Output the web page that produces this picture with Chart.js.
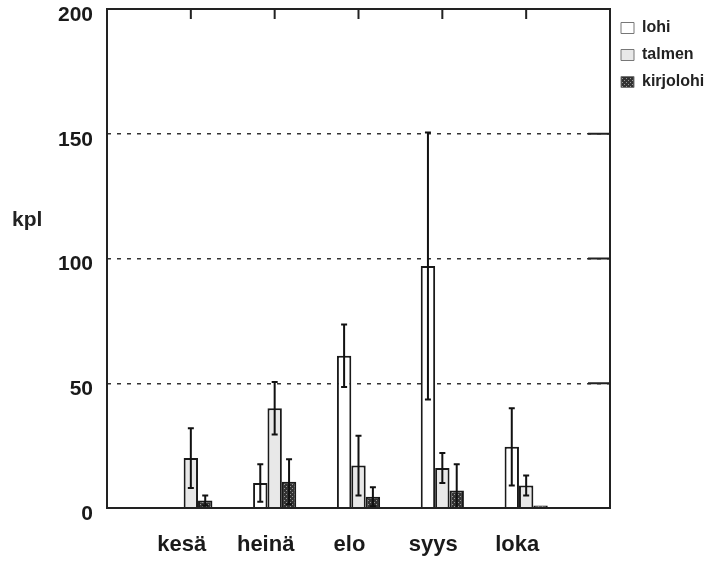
<!DOCTYPE html>
<html>
<head>
<meta charset="utf-8">
<script src="https://cdn.jsdelivr.net/npm/chart.js@4.4.1/dist/chart.umd.min.js"></script>
<style>
  body { margin: 0; background: #fff; }
  #wrap { width: 710px; height: 563px; }
</style>
</head>
<body>
<div id="wrap"><canvas id="chart" width="710" height="563"></canvas></div>
<script>
const categories = ["kesä", "heinä", "elo", "syys", "loka"];
const lohi = [0, 10, 61, 97, 24.5];
const lohiErr = [0, 7.5, 12.5, 53.5, 15.5];
const talmen = [20, 40, 17, 16, 9];
const talmenErr = [12, 10.5, 12, 6, 4];
const kirjolohi = [3, 10.5, 4.5, 7, 1];
const kirjolohiErr = [2, 9, 3.8, 10.5, 0];
const yTicks = [0, 50, 100, 150, 200];
const yTitle = "kpl";

const FONT = "'Liberation Sans', Arial, Helvetica, sans-serif";

// empty slot at both ends so the groups sit on the category lines
const labels = ["", ...categories, ""];
const pad = (arr) => [null, ...arr, null];
const errors = [lohiErr, talmenErr, kirjolohiErr];

function checker() {
  const c = document.createElement("canvas");
  c.width = 4;
  c.height = 4;
  const g = c.getContext("2d");
  g.fillStyle = "#333";
  g.fillRect(0, 0, 4, 4);
  g.fillStyle = "#9a9a9a";
  g.fillRect(0, 0, 1, 1);
  g.fillRect(2, 2, 1, 1);
  return g.createPattern(c, "repeat");
}

const errorBars = {
  id: "errorBars",
  afterDatasetsDraw(chart) {
    const { ctx } = chart;
    const y = chart.scales.y;
    ctx.save();
    ctx.strokeStyle = "#111";
    ctx.lineWidth = 2;
    chart.data.datasets.forEach((ds, i) => {
      const meta = chart.getDatasetMeta(i);
      meta.data.forEach((bar, j) => {
        const v = ds.data[j];
        const e = errors[i][j - 1];
        if (v == null || !e) return;
        const top = y.getPixelForValue(v + e);
        const low = v - e;
        const bot = y.getPixelForValue(Math.max(0, low));
        ctx.beginPath();
        ctx.moveTo(bar.x, top);
        ctx.lineTo(bar.x, bot);
        ctx.moveTo(bar.x - 3, top);
        ctx.lineTo(bar.x + 3, top);
        if (low > 0) {
          ctx.moveTo(bar.x - 3, bot);
          ctx.lineTo(bar.x + 3, bot);
        }
        ctx.stroke();
      });
    });
    ctx.restore();
  },
};

const frame = {
  id: "frame",
  afterDraw(chart) {
    const { ctx, chartArea: a } = chart;
    const x = chart.scales.x;
    const y = chart.scales.y;
    ctx.save();
    ctx.strokeStyle = "#222";
    ctx.lineWidth = 2;
    ctx.strokeRect(a.left, a.top, a.right - a.left, a.bottom - a.top);
    ctx.beginPath();
    categories.forEach((c, i) => {
      const px = x.getPixelForValue(i + 1);
      ctx.moveTo(px, a.top);
      ctx.lineTo(px, a.top + 10);
    });
    yTicks.slice(1, -1).forEach((t) => {
      const py = y.getPixelForValue(t);
      ctx.moveTo(a.right - 22, py);
      ctx.lineTo(a.right, py);
    });
    ctx.stroke();
    ctx.fillStyle = "#222";
    ctx.font = "bold 21px " + FONT;
    ctx.textAlign = "left";
    ctx.textBaseline = "middle";
    ctx.fillText(yTitle, 12, 220);
    ctx.restore();
  },
};

const legendWidth = {
  id: "legendWidth",
  beforeInit(chart) {
    const fit = chart.legend.fit;
    chart.legend.fit = function () {
      fit.bind(chart.legend)();
      this.width = 100;
    };
  },
};

const ctx = document.getElementById("chart").getContext("2d");
new Chart(ctx, {
  type: "bar",
  data: {
    labels,
    datasets: [
      {
        label: "lohi",
        data: pad(lohi),
        backgroundColor: "#ffffff",
        borderColor: "#1a1a1a",
        borderWidth: 2,
      },
      {
        label: "talmen",
        data: pad(talmen),
        backgroundColor: "#e8e8e8",
        borderColor: "#1a1a1a",
        borderWidth: 2,
      },
      {
        label: "kirjolohi",
        data: pad(kirjolohi),
        backgroundColor: checker(),
        borderColor: "#1a1a1a",
        borderWidth: 2,
      },
    ],
  },
  options: {
    responsive: false,
    animation: false,
    layout: { padding: { top: 9, right: 0, bottom: 0, left: 0 } },
    datasets: {
      bar: { categoryPercentage: 0.515, barPercentage: 1 },
    },
    plugins: {
      tooltip: { enabled: false },
      legend: {
        position: "right",
        align: "start",
        labels: {
          boxWidth: 13,
          boxHeight: 11,
          padding: 11,
          color: "#222",
          font: { family: FONT, size: 16, weight: "bold" },
          generateLabels(chart) {
            const items = Chart.defaults.plugins.legend.labels.generateLabels(chart);
            items.forEach((it) => {
              it.lineWidth = 1;
              it.strokeStyle = "#777";
            });
            return items;
          },
        },
      },
    },
    scales: {
      x: {
        offset: false,
        grid: { display: false },
        border: { display: false },
        ticks: {
          autoSkip: false,
          maxRotation: 0,
          padding: 16,
          labelOffset: -9,
          color: "#1a1a1a",
          font: { family: FONT, size: 22, weight: "bold" },
        },
        afterFit(scale) {
          scale.height = 55;
          scale.paddingLeft = 0;
          scale.paddingRight = 0;
        },
      },
      y: {
        min: yTicks[0],
        max: yTicks[yTicks.length - 1],
        afterBuildTicks(scale) {
          scale.ticks = yTicks.map((v) => ({ value: v }));
        },
        grid: {
          drawTicks: false,
          lineWidth: 1.5,
          color: (c) =>
            c.tick && c.tick.value > yTicks[0] && c.tick.value < yTicks[yTicks.length - 1]
              ? "#333"
              : "rgba(0,0,0,0)",
        },
        border: { display: false, dash: [4, 6] },
        ticks: {
          padding: 14,
          labelOffset: 6,
          color: "#1a1a1a",
          font: { family: FONT, size: 21, weight: "bold" },
        },
        afterFit(scale) {
          scale.width = 107;
          scale.paddingTop = 0;
          scale.paddingBottom = 0;
        },
      },
    },
  },
  plugins: [errorBars, frame, legendWidth],
});
</script>
</body>
</html>
